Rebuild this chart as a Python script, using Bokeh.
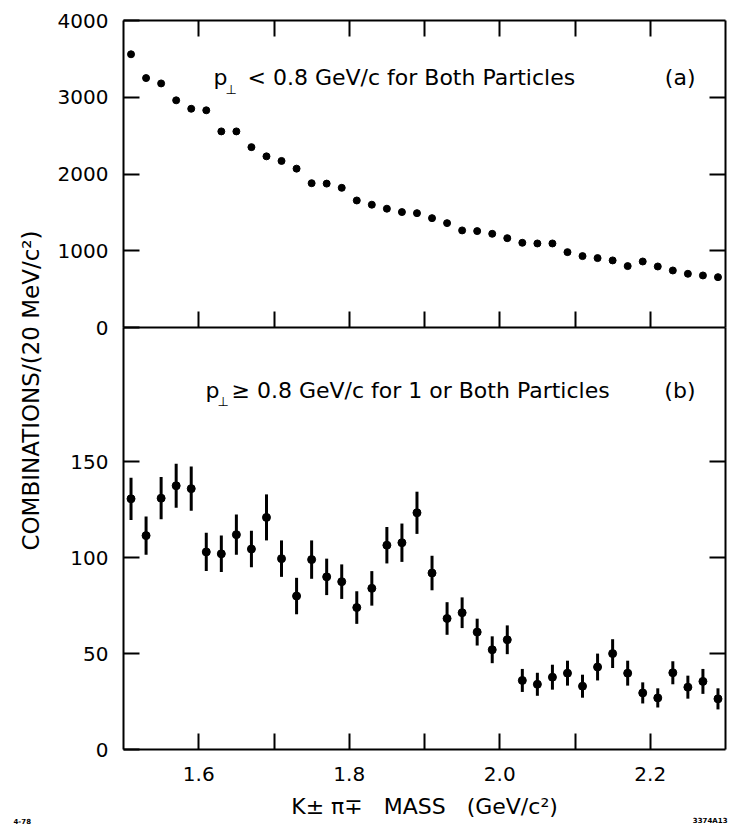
import math
from bokeh.plotting import figure
from bokeh.models import Range1d, LinearAxis, FixedTicker, Label
from bokeh.embed import file_html
from bokeh.resources import INLINE

# ---- data ----
mass = [1.51, 1.53, 1.55, 1.57, 1.59, 1.61, 1.63, 1.65, 1.67, 1.69,
        1.71, 1.73, 1.75, 1.77, 1.79, 1.81, 1.83, 1.85, 1.87, 1.89,
        1.91, 1.93, 1.95, 1.97, 1.99, 2.01, 2.03, 2.05, 2.07, 2.09,
        2.11, 2.13, 2.15, 2.17, 2.19, 2.21, 2.23, 2.25, 2.27, 2.29]

# (a) pT < 0.8 GeV/c for both particles
counts_low_pt = [3560, 3250, 3180, 2960, 2850, 2830, 2555, 2555, 2350, 2230,
                 2170, 2070, 1880, 1875, 1820, 1655, 1600, 1548, 1504, 1490,
                 1425, 1360, 1265, 1256, 1221, 1164, 1104, 1095, 1095, 982,
                 930, 904, 874, 800, 860, 795, 743, 700, 678, 656]

# (b) pT >= 0.8 GeV/c for 1 or both particles
counts_high_pt = [130.7, 111.5, 131.0, 137.5, 136.0, 103.0, 102.0, 112.0, 104.5, 121.0,
                  99.5, 80.0, 99.0, 90.0, 87.5, 74.0, 84.0, 106.5, 107.8, 123.4,
                  92.0, 68.3, 71.3, 61.2, 52.0, 57.2, 36.0, 34.0, 37.7, 39.8,
                  33.0, 43.0, 50.0, 39.8, 29.5, 26.9, 40.0, 32.5, 35.5, 26.4]
errors_high_pt = [11.0, 10.0, 11.0, 11.5, 11.5, 10.0, 9.5, 10.5, 9.5, 12.0,
                  9.5, 9.5, 10.0, 9.5, 9.0, 8.5, 9.0, 9.5, 10.0, 11.0,
                  9.0, 8.5, 8.0, 7.0, 7.0, 7.5, 6.0, 6.0, 6.5, 6.5,
                  6.0, 7.0, 7.5, 6.5, 5.5, 5.0, 6.0, 6.0, 6.5, 5.5]

x_major_ticks = [1.6, 1.8, 2.0, 2.2]
x_tick_labels = ["1.6", "1.8", "2.0", "2.2"]
x_minor_ticks = [1.7, 1.9, 2.1]
x_all_ticks = [1.6, 1.7, 1.8, 1.9, 2.0, 2.1, 2.2]
y_ticks_low = [0, 1000, 2000, 3000, 4000]
y_ticks_low_inner = [1000, 2000, 3000]
y_ticks_high = [0, 50, 100, 150]
y_ticks_high_inner = [50, 100, 150]

x_lim = (1.5, 2.3)
y_lim_low = (0, 4000)
y_lim_high = (0, 220)

FONT = "DejaVu Sans"

# the frame covers the whole canvas; the visible box is drawn by axes with bounds
W, H = 734, 828
L, R, T, M, B = 123, 725, 20, 327, 749          # pixel edges of the drawn boxes
xs = (x_lim[1] - x_lim[0]) / (R - L)
yh = (y_lim_high[1] - y_lim_high[0]) / (B - M)
yl = (y_lim_low[1] - y_lim_low[0]) / (M - T)

p = figure(width=W, height=H,
           x_range=Range1d(x_lim[0] - L * xs, x_lim[1] + (W - R) * xs),
           y_range=Range1d(y_lim_high[0] - (H - B) * yh, y_lim_high[0] + B * yh),
           x_axis_location=None, y_axis_location=None,
           min_border=0, output_backend="svg", toolbar_location=None)
p.extra_y_ranges = {"top": Range1d(y_lim_low[0] - (H - M) * yl, y_lim_low[0] + M * yl)}
p.grid.grid_line_color = None
p.outline_line_color = None
p.background_fill_color = "white"
p.border_fill_color = "white"


def style(ax, labels=True):
    ax.major_tick_in = 16
    ax.major_tick_out = 0
    ax.minor_tick_in = 16
    ax.minor_tick_out = 0
    ax.axis_line_width = 2
    ax.major_tick_line_width = 2
    ax.minor_tick_line_width = 2
    ax.axis_line_color = "black"
    ax.major_tick_line_color = "black"
    ax.minor_tick_line_color = "black"
    ax.major_label_text_font = FONT
    ax.major_label_text_font_size = "20px"
    ax.major_label_text_color = "black" if labels else None
    ax.axis_label_text_font = FONT
    ax.axis_label_text_font_style = "normal"
    ax.axis_label_text_color = "black"


# bottom x axis with labels
bx = LinearAxis(fixed_location=y_lim_high[0], bounds=x_lim,
                ticker=FixedTicker(ticks=x_major_ticks, minor_ticks=x_minor_ticks),
                major_label_overrides=dict(zip(x_major_ticks, x_tick_labels)),
                axis_label="K\u00b1 \u03c0\u2213\u00a0\u00a0 MASS\u00a0\u00a0 (GeV/c\u00b2)")
style(bx)
bx.major_label_standoff = 17
bx.axis_label_text_font_size = "22px"
bx.axis_label_standoff = 10
p.add_layout(bx, "below")

# divider between the panels (zero line of panel a)
mx = LinearAxis(y_range_name="top", fixed_location=y_lim_low[0], bounds=x_lim,
                ticker=FixedTicker(ticks=x_all_ticks))
style(mx, labels=False)
p.add_layout(mx, "below")

# top edge of panel a
tx = LinearAxis(y_range_name="top", fixed_location=y_lim_low[1], bounds=x_lim,
                ticker=FixedTicker(ticks=x_all_ticks))
style(tx, labels=False)
p.add_layout(tx, "above")

# left axis, panel b
ly = LinearAxis(fixed_location=x_lim[0], bounds=y_lim_high,
                ticker=FixedTicker(ticks=y_ticks_high))
style(ly)
ly.major_label_standoff = 15
p.add_layout(ly, "left")

# left axis, panel a
lty = LinearAxis(y_range_name="top", fixed_location=x_lim[0], bounds=y_lim_low,
                 ticker=FixedTicker(ticks=y_ticks_low))
style(lty)
lty.major_label_standoff = 15
p.add_layout(lty, "left")

# right edges (ticks only)
ry = LinearAxis(fixed_location=x_lim[1], bounds=y_lim_high,
                ticker=FixedTicker(ticks=y_ticks_high_inner))
style(ry, labels=False)
p.add_layout(ry, "right")
rty = LinearAxis(y_range_name="top", fixed_location=x_lim[1], bounds=y_lim_low,
                 ticker=FixedTicker(ticks=y_ticks_low_inner))
style(rty, labels=False)
p.add_layout(rty, "right")

# ---- data marks ----
p.scatter(mass, counts_low_pt, y_range_name="top", size=7,
          fill_color="black", line_color="black")

lo = [v - e for v, e in zip(counts_high_pt, errors_high_pt)]
hi = [v + e for v, e in zip(counts_high_pt, errors_high_pt)]
p.segment(x0=mass, y0=lo, x1=mass, y1=hi, line_width=3, line_color="black")
p.scatter(mass, counts_high_pt, size=8, fill_color="black", line_color="black")


# ---- annotations (screen units: x from left, y from bottom of canvas) ----
def lab(text, x, y, size, align="left", baseline="alphabetic", bold=False, angle=0):
    p.add_layout(Label(x=x, y=H - y, x_units="screen", y_units="screen", text=text,
                       text_font=FONT, text_font_size=size, text_align=align,
                       text_baseline=baseline, text_color="black", angle=angle,
                       text_font_style="bold" if bold else "normal"))


# y axis title spanning both panels
lab("COMBINATIONS/(20 MeV/c\u00b2)", 30, 390, "23px", align="center",
    baseline="middle", angle=math.pi / 2)
# panel (a)
lab("p", 213, 77, "22px")
lab("\u22a5", 225, 89, "13px")
lab("< 0.8 GeV/c for Both Particles", 247, 77, "22px")
lab("(a)", 695, 77, "22px", align="right")
# panel (b)
lab("p", 205, 390, "22px")
lab("\u22a5", 217, 401, "13px")
lab("\u2265 0.8 GeV/c for 1 or Both Particles", 231, 390, "22px")
lab("(b)", 695, 390, "22px", align="right")
# small figure marks
lab("4-78", 13, 820, "7px", baseline="middle", bold=True)
lab("3374A13", 727, 820, "7px", align="right", baseline="middle", bold=True)

open("out.html", "w").write(file_html(p, INLINE))
